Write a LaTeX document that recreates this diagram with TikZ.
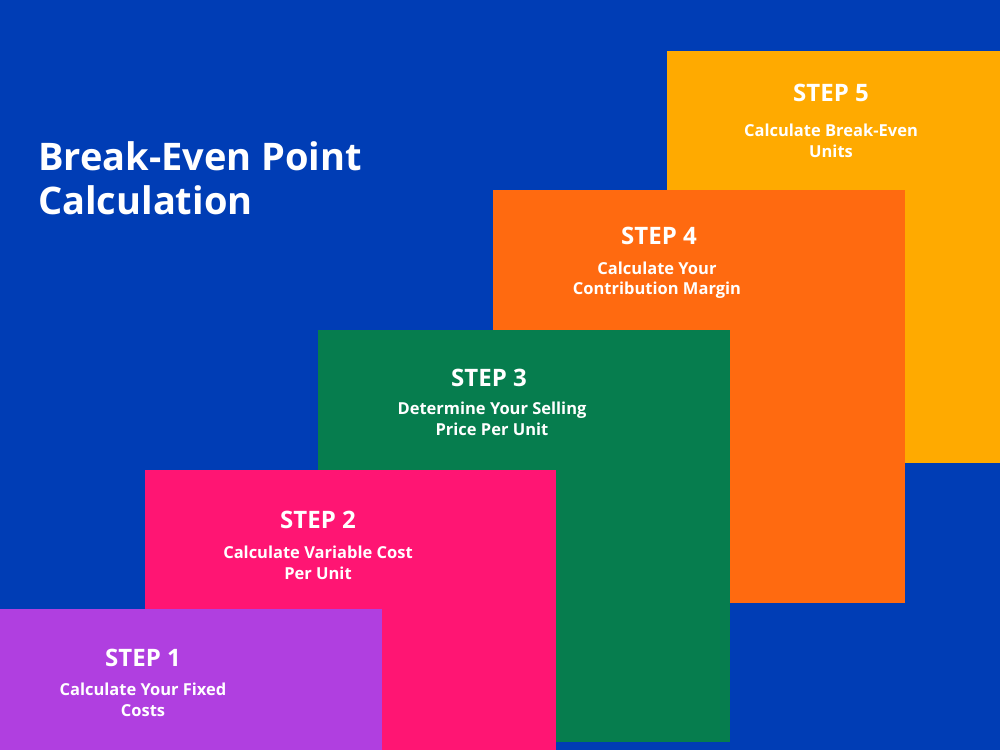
\documentclass[tikz,border=0pt]{standalone}
\usepackage{fontspec}
\setmainfont{Open Sans}
\definecolor{bg}{HTML}{003DB5}
\definecolor{cfive}{HTML}{FFAA00}
\definecolor{cfour}{HTML}{FF6A10}
\definecolor{cthree}{HTML}{067D4E}
\definecolor{ctwo}{HTML}{FF1573}
\definecolor{cone}{HTML}{B03FE0}
\begin{document}
\begin{tikzpicture}[x=1pt,y=-1pt,
  head/.style={text=white,font=\bfseries\fontsize{24}{28}\selectfont,anchor=center,inner sep=0},
  body/.style={text=white,font=\bfseries\fontsize{16.5}{20.5}\selectfont,align=center,anchor=center,inner sep=0}]
\fill[bg] (0,0) rectangle (1000,750);
\useasboundingbox (0,0) rectangle (1000,750);
\fill[cfive] (667,51) rectangle (1000,463);
\fill[cfour] (493,190) rectangle (905,603);
\fill[cthree] (318,330) rectangle (730,742);
\fill[ctwo] (145,470) rectangle (556,750);
\fill[cone] (0,609) rectangle (382,750);
\node[text=white,font=\bfseries\fontsize{38}{44}\selectfont,align=left,anchor=west,inner sep=0] (title) at (38,178) {Break-Even Point\\Calculation};
\node[head] (h5) at (831,93) {STEP 5};
\node[body] (b5) at (831,141) {Calculate Break-Even\\Units};
\node[head] (h4) at (659,236) {STEP 4};
\node[body] (b4) at (657,280) {Calculate Your\\Contribution Margin};
\node[head] (h3) at (489,378) {STEP 3};
\node[body] (b3) at (492,419) {Determine Your Selling\\Price Per Unit};
\node[head] (h2) at (318,520) {STEP 2};
\node[body] (b2) at (318,563) {Calculate Variable Cost\\Per Unit};
\node[head] (h1) at (143,658) {STEP 1};
\node[body] (b1) at (143,700) {Calculate Your Fixed\\Costs};
\end{tikzpicture}
\end{document}
